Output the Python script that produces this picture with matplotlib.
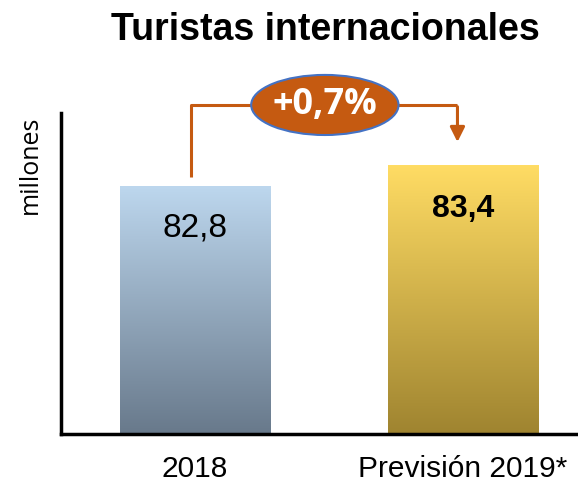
import matplotlib.pyplot as plt
import numpy as np
from matplotlib.patches import Ellipse
from matplotlib.colors import LinearSegmentedColormap

categories = ["2018", "Previsión 2019*"]
values = [82.8, 83.4]
value_labels = ["82,8", "83,4"]
change_label = "+0,7%"

top_colors = ["#BDD7EE", "#FFDC64"]
bottom_colors = ["#68798B", "#9F8430"]

fig = plt.figure(figsize=(5.78, 4.86), dpi=100)
ax = fig.add_axes([61 / 578, 52 / 486, 517 / 578, 321 / 486])

ymin, ymax = 75.7, 84.89
ax.set_xlim(-0.5, 1.43)
ax.set_ylim(ymin, ymax)

width = 0.56
grad = np.linspace(1, 0, 256).reshape(-1, 1)
for i, v in enumerate(values):
    cmap = LinearSegmentedColormap.from_list("g%d" % i, [bottom_colors[i], top_colors[i]])
    ax.imshow(grad, cmap=cmap, vmin=0, vmax=1, aspect="auto",
              extent=[i - width / 2, i + width / 2, ymin, v], zorder=2)

ax.text(0, values[0] - 1.2, value_labels[0], ha="center", va="center",
        fontsize=24, family="Liberation Sans")
ax.text(1, values[1] - 1.25, value_labels[1], ha="center", va="center",
        fontsize=23, fontweight="bold", family="Liberation Sans")

# connector with arrow
c = "#C55A11"
ly = 85.12
ax.plot([-0.015, -0.015, 0.98], [values[0] + 0.26, ly, ly], color=c, lw=2.2,
        clip_on=False, zorder=3, solid_capstyle="butt")
ax.annotate("", xy=(0.98, values[1] + 0.58), xytext=(0.98, ly + 0.03),
            arrowprops=dict(arrowstyle="-|>", color=c, lw=2.2, mutation_scale=22),
            annotation_clip=False, zorder=3)
ax.add_patch(Ellipse((0.485, ly), 0.55, 1.72, facecolor=c, edgecolor="#4472C4",
                     lw=1.5, clip_on=False, zorder=4))
ax.text(0.485, ly, change_label, ha="center", va="center", color="white",
        fontsize=26, fontweight="bold", family="Open Sans", zorder=5)

ax.set_xticks([0, 1])
ax.set_xticklabels(categories, fontsize=21.5, family="Liberation Sans")
ax.tick_params(axis="x", length=0, pad=15)
ax.set_yticks([])
for s in ["top", "right"]:
    ax.spines[s].set_visible(False)
ax.spines["left"].set_linewidth(2.5)
ax.spines["bottom"].set_linewidth(2.5)
ax.set_ylabel("millones", fontsize=18, family="Open Sans")
ax.yaxis.set_label_coords(-0.035, 0.84)

fig.text(325 / 578, 1 - 30 / 486, "Turistas internacionales", ha="center", va="center",
         fontsize=27, fontweight="bold", family="Liberation Sans")

fig.savefig("out.png", dpi=100)
